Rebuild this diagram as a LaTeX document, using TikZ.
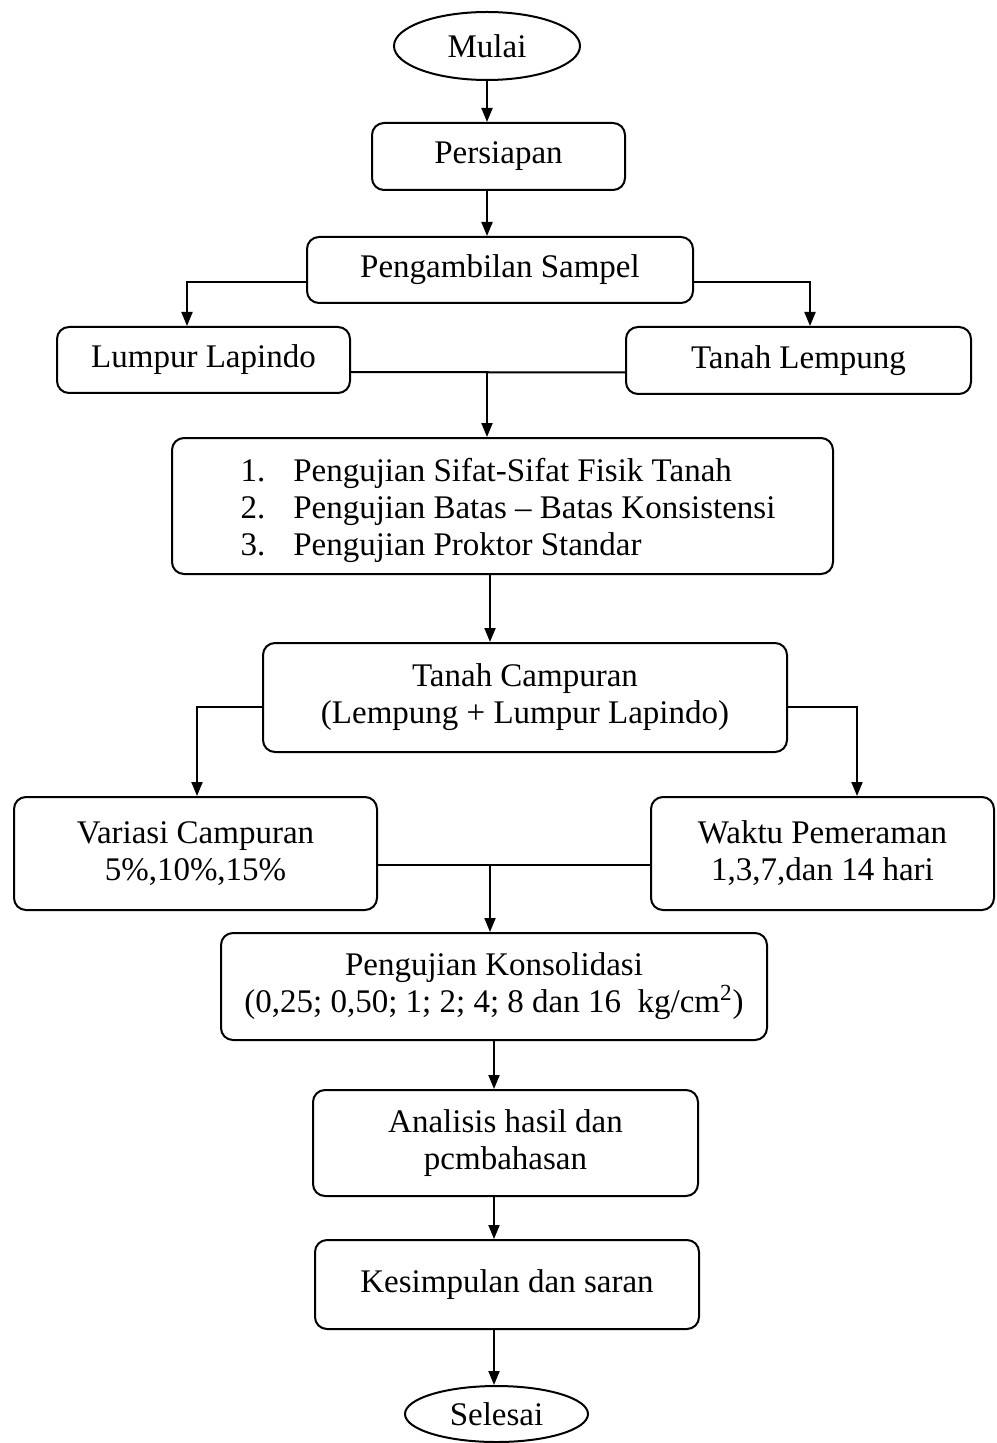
\documentclass[tikz,border=0pt]{standalone}
\usepackage{fontspec}
\setmainfont{Liberation Serif}
\usetikzlibrary{arrows.meta,shapes.geometric}
\begin{document}
\begin{tikzpicture}[x=0.5pt,y=-0.5pt,
  box/.style={draw,line width=1pt,rounded corners=6pt,inner sep=0pt,align=center,
    font=\fontsize{16.5}{18.5}\selectfont},
  oval/.style={draw,ellipse,line width=1pt,inner sep=0pt,
    font=\fontsize{16.5}{18.5}\selectfont},
  txt/.style={inner sep=0pt,font=\fontsize{16.5}{18.5}\selectfont},
  arr/.style={line width=1pt,-{Triangle[length=7pt,width=5.5pt]}},
  ln/.style={line width=1pt}]
\useasboundingbox (0,0) rectangle (996,1443);
% nodes
\node[oval,minimum width=93pt,minimum height=34pt] (mulai) at (487,46) {Mulai};
\node[box,minimum width=126.5pt,minimum height=33.5pt] (persiapan) at (498.5,156.5) {Persiapan};
\node[box,minimum width=193pt,minimum height=33pt] (sampel) at (500,270) {Pengambilan Sampel};
\node[box,minimum width=146.5pt,minimum height=33pt] (lumpur) at (203.5,360) {Lumpur Lapindo};
\node[box,minimum width=172.5pt,minimum height=33.5pt] (lempung) at (798.5,360.5) {Tanah Lempung};
\node[box,minimum width=330.5pt,minimum height=68pt] (uji) at (502.5,506) {};
\node[txt] (ujitext) at (508,511) {\begin{tabular}{@{}r@{\hspace{14pt}}l@{}}
1. & Pengujian Sifat-Sifat Fisik Tanah\\
2. & Pengujian Batas – Batas Konsistensi\\
3. & Pengujian Proktor Standar
\end{tabular}};
\node[box,minimum width=262pt,minimum height=54.5pt] (campur) at (525,697.5) {Tanah Campuran\\(Lempung + Lumpur Lapindo)};
\node[box,minimum width=181.5pt,minimum height=56.5pt] (variasi) at (195.5,853.5) {Variasi Campuran\\5\%,10\%,15\%};
\node[box,minimum width=171.5pt,minimum height=56.5pt] (waktu) at (822.5,853.5) {Waktu Pemeraman\\1,3,7,dan 14 hari};
\node[box,minimum width=273pt,minimum height=53.5pt] (konsol) at (494,986.5) {Pengujian Konsolidasi\\(0,25; 0,50; 1; 2; 4; 8 dan 16\ \ kg/cm\textsuperscript{2})};
\node[box,minimum width=192.5pt,minimum height=53pt] (analisis) at (505.5,1143) {Analisis hasil dan\\pcmbahasan};
\node[box,minimum width=192pt,minimum height=44.5pt] (kesimpulan) at (507,1284.5) {Kesimpulan dan saran};
\node[oval,minimum width=91.5pt,minimum height=28pt] (selesai) at (496.5,1414) {Selesai};
% connectors
\draw[arr] (mulai.south) -- (mulai.south |- persiapan.north);
\draw[arr] (persiapan.south -| mulai.south) -- (sampel.north -| mulai.south);
\draw[arr] ([yshift=-6pt]sampel.west) -| ([xshift=-8.25pt]lumpur.north);
\draw[arr] ([yshift=-6pt]sampel.east) -| ([xshift=5.75pt]lempung.north);
\draw[ln] ([yshift=-6pt]lumpur.east) -- ([yshift=-6pt]lempung.west);
\coordinate (j1) at (487,372);
\draw[arr] (j1) -- (j1 |- uji.north);
\coordinate (c2) at (490,0);
\draw[arr] (uji.south -| c2) -- (campur.north -| c2);
\draw[arr] ([yshift=-4.75pt]campur.west) -| ([xshift=0.75pt]variasi.north);
\draw[arr] ([yshift=-4.75pt]campur.east) -| ([xshift=17.25pt]waktu.north);
\draw[ln] ([yshift=-5.75pt]variasi.east) -- ([yshift=-5.75pt]waktu.west);
\coordinate (j2) at (490,865);
\draw[arr] (j2) -- (j2 |- konsol.north);
\draw[arr] (konsol.south) -- (konsol.south |- analisis.north);
\draw[arr] (analisis.south -| konsol.south) -- (kesimpulan.north -| konsol.south);
\draw[arr] (kesimpulan.south -| konsol.south) -- (selesai.north -| konsol.south);
\end{tikzpicture}
\end{document}
